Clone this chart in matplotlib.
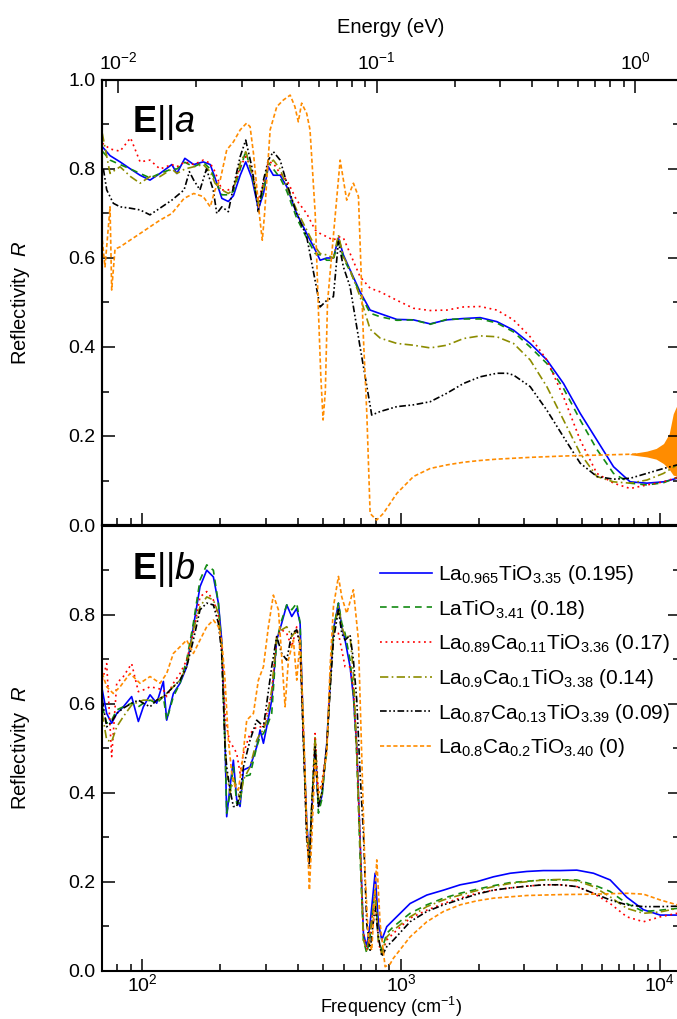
import matplotlib
matplotlib.use('Agg')
import matplotlib.pyplot as plt
from matplotlib.ticker import MultipleLocator, FormatStrFormatter, LogLocator, NullFormatter

plt.rcParams['font.family'] = ['Liberation Sans', 'DejaVu Sans']
plt.rcParams['mathtext.fontset'] = 'custom'
plt.rcParams['mathtext.rm'] = 'Liberation Sans'
plt.rcParams['mathtext.it'] = 'Liberation Sans:italic'
plt.rcParams['mathtext.bf'] = 'Liberation Sans:bold'

CM_TO_EV = 1.23984e-4
F_MIN, F_MAX = 70, 12000

labels = [r'La$_{0.965}$TiO$_{3.35}$ (0.195)',
          r'LaTiO$_{3.41}$ (0.18)',
          r'La$_{0.89}$Ca$_{0.11}$TiO$_{3.36}$ (0.17)',
          r'La$_{0.9}$Ca$_{0.1}$TiO$_{3.38}$ (0.14)',
          r'La$_{0.87}$Ca$_{0.13}$TiO$_{3.39}$ (0.09)',
          r'La$_{0.8}$Ca$_{0.2}$TiO$_{3.40}$ (0)']
colors = ['#0000ff', '#138a13', '#ff0000', '#8c8c00', '#000000', '#ff8c00']
dashes = [(), (4, 3), (1.1, 2.2), (5, 2, 1, 2), (4, 1.5, 1, 1.5, 1, 1.5), (2.5, 1.5)]

# ---- E || a  (top panel) ----
a_grid = [70, 75, 82, 90, 98, 107, 117, 130, 136, 146, 158, 172, 183, 191, 203,
          215, 225, 239, 251, 265, 281, 294, 307, 321, 341, 362, 395, 432, 466, 487,
          516, 548, 573, 599, 636, 695, 760, 831, 964, 1118, 1297, 1504, 1745, 2025,
          2349, 2724, 3160, 3666, 4253, 4933, 5723, 6638, 7700, 8933, 10363, 11700]
a_blue = [.85, .83, .816, .80, .786, .775, .79, .81, .79, .824, .81, .816, .81, .78, .734,
          .727, .74, .786, .816, .78, .71, .745, .805, .786, .786, .76, .70, .655, .618, .595,
          .60, .60, .645, .607, .573, .524, .483, .475, .462, .461, .452, .461, .464, .466,
          .457, .438, .408, .371, .318, .251, .191, .131, .097, .094, .097, .105]
a_green = [.84, .82, .81, .80, .79, .78, .79, .80, .80, .815, .805, .815, .80, .775, .742,
           .742, .75, .80, .84, .79, .72, .75, .815, .80, .78, .75, .69, .645, .61, .607,
           .595, .595, .645, .60, .57, .52, .476, .468, .46, .461, .451, .462, .463, .463,
           .454, .434, .40, .363, .307, .236, .17, .116, .094, .09, .095, .107]
a_red = [.858, .845, .84, .87, .816, .82, .80, .81, .805, .816, .81, .82, .813, .794, .753,
         .753, .76, .805, .828, .80, .73, .768, .816, .813, .79, .775, .73, .70, .663, .655,
         .648, .64, .648, .645, .61, .558, .532, .524, .505, .487, .482, .483, .49, .491,
         .483, .461, .423, .371, .288, .191, .116, .094, .082, .09, .097, .107]
a_olive = [.88, .79, .805, .783, .768, .783, .783, .80, .79, .80, .805, .81, .794, .768, .753,
           .745, .753, .813, .839, .79, .723, .76, .809, .82, .80, .76, .708, .663, .625, .61,
           .607, .60, .652, .603, .573, .513, .44, .42, .408, .404, .398, .404, .419, .425,
           .423, .408, .371, .311, .236, .161, .109, .097, .094, .101, .116, .135]

a_black_f = [70.7, 72.8, 77.2, 82, 89.6, 98, 107, 117, 130, 145, 152, 158, 167, 177, 188,
             194, 203, 215, 225, 239, 251, 265, 281, 294, 307, 321, 341, 362, 395, 432,
             455, 487, 517, 548, 573, 599, 636, 695, 749, 771, 831, 964, 1118, 1297, 1504,
             1745, 2025, 2349, 2567, 2724, 3160, 3666, 4253, 4933, 5723, 6638, 7700, 8933,
             10363, 11700]
a_black = [.80, .753, .723, .715, .712, .708, .697, .712, .73, .753, .794, .775, .753, .80, .753,
           .70, .715, .704, .76, .828, .865, .805, .704, .775, .82, .839, .82, .768, .70, .648,
           .58, .49, .505, .513, .637, .58, .535, .40, .29, .247, .255, .266, .27, .277, .296,
           .318, .333, .341, .341, .337, .311, .258, .198, .139, .109, .103, .105, .116,
           .127, .135]

a_orange_f = [70, 71.7, 75, 76.1, 78.4, 82, 89.6, 98, 107, 117, 130, 145, 158, 172, 183,
              191, 200, 212, 225, 239, 253, 261, 269, 285, 291, 297, 312, 331, 351, 373,
              389, 401, 413, 432, 445, 466, 480, 490, 500, 510, 520, 548, 582, 617, 655,
              685, 716, 738, 760, 805, 855, 964, 1118, 1297, 1504, 1745, 2025, 2349, 3160,
              4253, 5723, 7700, 10363, 11700]
a_orange = [.64, .58, .715, .528, .62, .625, .64, .655, .67, .685, .70, .734, .745, .738, .715,
            .753, .775, .843, .861, .888, .903, .895, .835, .685, .64, .70, .888, .94, .955, .966,
            .94, .906, .948, .925, .888, .70, .476, .333, .236, .30, .50, .65, .82, .73, .768,
            .738, .42, .25, .026, .011, .026, .071, .109, .127, .135, .141, .145, .148, .152,
            .155, .157, .159, .161, .162]
# noisy high-frequency part of the orange trace (envelope)
a_noise_f = [7700, 8933, 9700, 10363, 10900, 11300, 11700]
a_noise_lo = [.158, .153, .148, .138, .125, .112, .11]
a_noise_hi = [.160, .166, .172, .183, .205, .25, .27]

# ---- E || b  (bottom panel) ----
b_grid = [70, 72.8, 76.1, 79.6, 84.4, 90.9, 96.5, 100.9, 107.1, 113.6, 120.6, 124.2, 131.8,
          139.9, 148.4, 157.5, 167.1, 177.4, 188.2, 196.8, 202.7, 208.8, 211.9, 218.3, 224.9,
          231.7, 238.7, 245.9, 260.9, 276.9, 285.3, 293.9, 302.7, 316.4, 330.8, 345.9, 361.7,
          378.2, 395.4, 407.4, 419.6, 432.3, 442.6, 451.9, 465.6, 479.6, 494.1, 516.6, 532.1,
          548.2, 573.2, 590.4, 608.1, 635.8, 654.9, 674.7, 695.0, 716.0, 737.6, 759.8, 794.5,
          818.4, 843.1, 881.5, 935.4, 1085, 1259, 1460, 1694, 1965, 2279, 2645, 3067, 3558,
          4128, 4787, 5555, 6442, 7475, 8670, 10058, 11700]
b_blue = [.631, .578, .556, .578, .593, .616, .56, .593, .62, .601, .65, .563, .623, .646, .683,
          .773, .863, .900, .885, .826, .743, .518, .346, .414, .473, .384, .369, .451, .458,
          .503, .541, .511, .548, .608, .743, .781, .822, .796, .814, .781, .533, .331, .256,
          .354, .503, .369, .391, .511, .646, .766, .826, .773, .743, .683, .616, .503, .294,
          .084, .054, .106, .219, .106, .069, .099, .114,
          .151, .17, .181, .193, .20, .211, .219, .223, .225, .225, .226, .219, .204, .165,
          .137, .125, .125]
b_green = [.593, .556, .563, .586, .593, .601, .593, .601, .608, .601, .616, .563, .616, .646,
           .698, .781, .878, .912, .90, .826, .728, .503, .354, .399, .458, .376, .376, .436,
           .44, .503, .526, .533, .548, .578, .743, .788, .822, .811, .826, .781, .518, .309,
           .249, .369, .518, .354, .384, .503, .646, .766, .826, .781, .758, .698, .623, .481,
           .256, .069, .039, .076, .181, .069, .046, .084, .099,
           .129, .148, .163, .174, .183, .191, .198, .201, .204, .204, .204, .193, .178, .151,
           .133, .136, .14]
b_red = [.653, .69, .481, .646, .661, .69, .627, .631, .638, .635, .631, .616, .646, .668, .698,
         .758, .84, .852, .833, .796, .721, .578, .548, .511, .503, .488, .444, .488, .533, .548,
         .548, .548, .578, .623, .751, .766, .758, .728, .773, .728, .518, .309, .241, .369,
         .533, .399, .421, .503, .646, .758, .758, .721, .683, .683, .631, .503, .294, .084,
         .046, .084, .174, .061, .039, .069, .084,
         .118, .136, .151, .163, .174, .181, .186, .19, .193, .193, .189, .174, .151, .121,
         .11, .121, .129]
b_olive = [.578, .518, .515, .548, .571, .597, .604, .608, .608, .608, .616, .623, .638, .653,
           .683, .766, .818, .84, .833, .803, .728, .518, .444, .399, .429, .414, .384, .429,
           .458, .518, .533, .541, .563, .631, .751, .766, .773, .751, .766, .743, .533, .324,
           .249, .369, .526, .376, .399, .503, .638, .758, .818, .773, .751, .751, .668, .496,
           .279, .069, .046, .084, .181, .069, .039, .076, .091,
           .121, .144, .159, .17, .18, .189, .196, .20, .204, .205, .202, .189, .166, .14,
           .129, .132, .14]
b_black = [.608, .548, .56, .578, .59, .601, .608, .601, .593, .608, .616, .623, .638, .653,
           .683, .743, .811, .826, .822, .781, .713, .503, .458, .406, .369, .369, .399, .458,
           .518, .563, .556, .548, .601, .683, .751, .713, .698, .758, .766, .728, .518, .294,
           .234, .369, .503, .369, .399, .503, .631, .743, .811, .758, .743, .754, .698, .608,
           .444, .309, .106, .046, .144, .076, .032, .054, .069,
           .11, .133, .148, .16, .172, .181, .186, .19, .193, .193, .189, .174, .159, .148,
           .144, .144, .145]
b_orange_f = [70, 72.8, 77.2, 82, 89.6, 97.9, 107.1, 117.1, 124.2, 131.8, 139.9, 148.4, 157.5,
              167.1, 177.4, 188.2, 196.8, 202.7, 208.8, 215.1, 221.6, 228.2, 235.1, 242.2,
              253.3, 268.8, 281, 293.9, 307.2, 321.1, 335.8, 345.9, 356.4, 367.1, 383.8, 395.4,
              407.4, 419.6, 432.3, 442.6, 451.9, 465.6, 479.6, 494.1, 516.6, 532.1, 548.2,
              573.2, 590.4, 617.2, 654.9, 684.8, 705.5, 726.7, 748.6, 771.2, 794.5, 806.4,
              830.7, 868.6, 908.1, 935, 1085, 1259, 1460, 1694, 1965, 2279, 2645, 3067, 4128,
              5555, 7475, 8670, 10058, 11700]
b_orange = [.668, .638, .623, .638, .668, .646, .661, .646, .668, .713, .728, .743, .713, .743,
            .773, .788, .773, .743, .653, .518, .444, .414, .406, .458, .563, .578, .653, .683,
            .773, .844, .811, .706, .593, .698, .743, .653, .743, .563, .324, .181, .294, .473,
            .399, .414, .488, .683, .818, .886, .84, .803, .856, .743, .481, .219, .069, .046,
            .181, .249, .106, .009, .015, .028, .076, .11, .133, .148, .157, .163, .166, .169,
            .171, .172, .174, .172, .159, .148]

top_series = [(a_grid, a_blue), (a_grid, a_green), (a_grid, a_red), (a_grid, a_olive),
              (a_black_f, a_black), (a_orange_f, a_orange)]
bot_series = [(b_grid, b_blue), (b_grid, b_green), (b_grid, b_red), (b_grid, b_olive),
              (b_grid, b_black), (b_orange_f, b_orange)]

fig = plt.figure(figsize=(6.77, 10.19), dpi=100)
W, H = 677.0, 1019.0
left, right = 102.3 / W, 680.0 / W
ax_a = fig.add_axes([left, 1 - 525 / H, right - left, 445 / H])
ax_b = fig.add_axes([left, 1 - 970.7 / H, right - left, 445 / H])

for ax, series in ((ax_a, top_series), (ax_b, bot_series)):
    for (f, r), c, d, lab in zip(series, colors, dashes, labels):
        ax.plot(f, r, color=c, lw=1.2, dashes=d, label=lab)
ax_a.fill_between(a_noise_f, a_noise_lo, a_noise_hi, color=colors[5], lw=0)

for ax in (ax_a, ax_b):
    ax.set_xscale('log')
    ax.set_xlim(F_MIN, F_MAX)
    ax.set_ylim(0, 1.0)
    ax.yaxis.set_major_formatter(FormatStrFormatter('%.1f'))
    ax.yaxis.set_minor_locator(MultipleLocator(0.1))
    ax.xaxis.set_major_locator(LogLocator(base=10, numticks=10))
    ax.xaxis.set_minor_locator(LogLocator(base=10, subs=range(2, 10), numticks=20))
    ax.xaxis.set_minor_formatter(NullFormatter())
    ax.tick_params(which='both', direction='in', width=1.1, labelsize=14,
                   left=True, right=True, top=False, bottom=True, pad=5)
    ax.tick_params(which='major', length=9)
    ax.tick_params(which='minor', length=5)
    for s in ax.spines.values():
        s.set_linewidth(1.5)
    ax.set_ylabel(r'Reflectivity  $R$', fontsize=14.5)
    ax.yaxis.set_label_coords(-0.122, 0.5)

ax_a.yaxis.set_major_locator(MultipleLocator(0.2))
ax_a.tick_params(axis='x', labelbottom=False)
ax_b.set_yticks([0, 0.2, 0.4, 0.6, 0.8])
ax_b.tick_params(axis='x', pad=2)
ax_b.set_xlabel('Frequency (cm$^{-1}$)', fontsize=13, labelpad=0)

# energy axis on top
ax_e = ax_a.twiny()
ax_e.set_xscale('log')
ax_e.set_xlim(F_MIN * CM_TO_EV, F_MAX * CM_TO_EV)
ax_e.xaxis.set_minor_locator(LogLocator(base=10, subs=range(2, 10), numticks=20))
ax_e.xaxis.set_minor_formatter(NullFormatter())
ax_e.tick_params(which='both', direction='in', width=1.1, labelsize=14, pad=5)
ax_e.tick_params(which='major', length=9)
ax_e.tick_params(which='minor', length=5)
ax_e.set_xlabel('Energy (eV)', fontsize=14.5, labelpad=13)
for s in ax_e.spines.values():
    s.set_linewidth(1.5)

ax_a.text(0.051, 0.884, r'$\mathbf{E}$||$\mathit{a}$', transform=ax_a.transAxes,
          fontsize=26, ha='left', va='baseline')
ax_b.text(0.051, 0.88, r'$\mathbf{E}$||$\mathit{b}$', transform=ax_b.transAxes,
          fontsize=26, ha='left', va='baseline')

ax_b.legend(loc='upper left', bbox_to_anchor=(0.4807, 0.916), frameon=False,
            fontsize=15, handlelength=2.5, handletextpad=0.3, borderpad=0,
            borderaxespad=0, labelspacing=0.56)

fig.savefig('out.png', dpi=100)
